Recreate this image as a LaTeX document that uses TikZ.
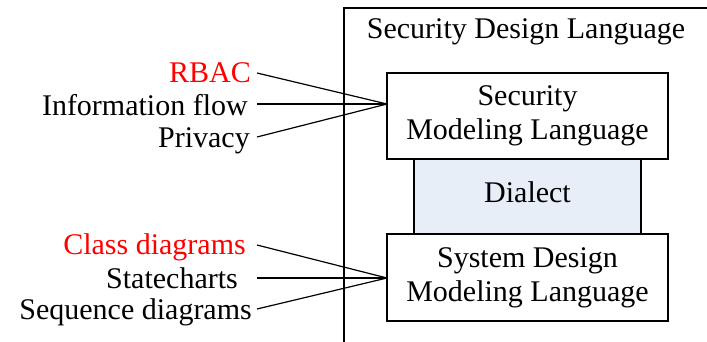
\documentclass[tikz,border=0pt]{standalone}
\usepackage{fontspec}
\setmainfont{Liberation Serif}
\definecolor{dialectfill}{HTML}{E7EEF8}
\begin{document}
\begin{tikzpicture}[x=1pt,y=-1pt,
  txt/.style={font=\fontsize{30}{34}\selectfont, inner sep=0pt},
  lbl/.style={txt, anchor=base east},
  box/.style={draw, line width=1.2pt, txt, align=center, minimum width=281pt, minimum height=86pt},
  conn/.style={line width=1.2pt}]
\useasboundingbox (0,0) rectangle (707,341);
\draw[line width=1.2pt] (344,350) -- (344,8) -- (720,8);
\node[txt, anchor=base] (title) at (526,38) {Security Design Language};
\node[box] (sml) at (527.5,116) {Security\\Modeling Language};
\node[box, fill=dialectfill, minimum width=227pt, minimum height=75pt, text depth=8pt] (dia) at (527.5,196.5) {Dialect};
\node[box, minimum height=87pt] (sdml) at (527.5,277.5) {System Design\\Modeling Language};
\coordinate (c1) at (387,104);
\coordinate (c2) at (387,278);
\node[lbl, text=red] (rbac) at (251,82) {RBAC};
\node[lbl] (info) at (248,115) {Information flow};
\node[lbl] (priv) at (250,147) {Privacy};
\node[lbl, text=red] (cls) at (246,254) {Class diagrams};
\node[lbl] (stc) at (238,288) {Statecharts};
\node[lbl] (seq) at (252,319) {Sequence diagrams};
\coordinate (r1) at (257,73);
\coordinate (r2) at (257,104);
\coordinate (r3) at (257,137);
\coordinate (s1) at (257,245);
\coordinate (s2) at (257,278);
\coordinate (s3) at (257,309);
\draw[conn] (r1) -- (c1);
\draw[conn] (r2) -- (c1);
\draw[conn] (r3) -- (c1);
\draw[conn] (s1) -- (c2);
\draw[conn] (s2) -- (c2);
\draw[conn] (s3) -- (c2);
\end{tikzpicture}
\end{document}
